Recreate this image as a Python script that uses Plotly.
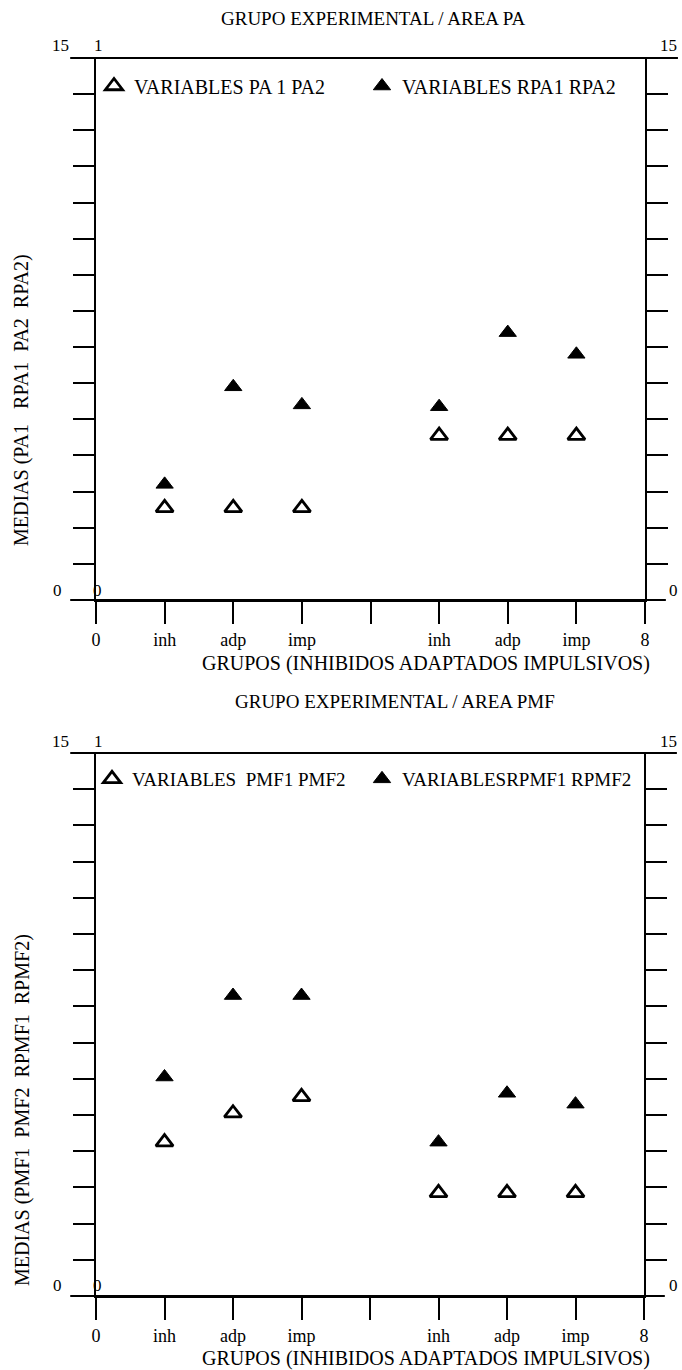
import plotly.graph_objects as go

# ---------------- data ----------------
x_pos = [1, 2, 3, 5, 6, 7]
x_tickvals = [0, 1, 2, 3, 4, 5, 6, 7, 8]
x_ticktext = ["0", "inh", "adp", "imp", "", "inh", "adp", "imp", "8"]
y_tickvals = [1, 2, 3, 4, 5, 6, 7, 8, 9, 10, 11, 12, 13, 14]

pa_vals = [2.55, 2.55, 2.55, 4.55, 4.55, 4.55]      # VARIABLES PA1 PA2 (open)
rpa_vals = [3.2, 5.9, 5.4, 5.35, 7.4, 6.8]          # VARIABLES RPA1 RPA2 (filled)
pmf_vals = [4.25, 5.05, 5.5, 2.85, 2.85, 2.85]      # VARIABLES PMF1 PMF2 (open)
rpmf_vals = [6.05, 8.3, 8.3, 4.25, 5.6, 5.3]        # VARIABLES RPMF1 RPMF2 (filled)

W, H = 682, 1370
SERIF = "Liberation Serif, Times New Roman, serif"


def fx(p):
    return p / W


def fy(p):
    return 1 - p / H


top = dict(x0=96, x1=645, y0=58, y1=600)
bot = dict(x0=96, x1=644, y0=753, y1=1296)

fig = go.Figure()

open_marker = dict(symbol="triangle-up-open", size=15, color="black", line=dict(width=2.8, color="black"))
fill_marker = dict(symbol="triangle-up", size=15, color="black", line=dict(width=1, color="black"))

fig.add_trace(go.Scatter(x=x_pos, y=pa_vals, mode="markers", marker=open_marker,
                         name="VARIABLES PA 1 PA2", xaxis="x", yaxis="y", legend="legend"))
fig.add_trace(go.Scatter(x=x_pos, y=rpa_vals, mode="markers", marker=fill_marker,
                         name="VARIABLES RPA1 RPA2", xaxis="x", yaxis="y", legend="legend2"))
fig.add_trace(go.Scatter(x=x_pos, y=pmf_vals, mode="markers", marker=open_marker,
                         name="VARIABLES  PMF1 PMF2", xaxis="x2", yaxis="y2", legend="legend3"))
fig.add_trace(go.Scatter(x=x_pos, y=rpmf_vals, mode="markers", marker=fill_marker,
                         name="VARIABLESRPMF1 RPMF2", xaxis="x2", yaxis="y2", legend="legend4"))

xax = dict(range=[0, 8], tickvals=x_tickvals, ticktext=x_ticktext, ticks="outside", ticklen=22,
           tickwidth=1.6, tickcolor="black", showline=True, linecolor="black", linewidth=2,
           showgrid=False, zeroline=False, tickfont=dict(family=SERIF, size=18, color="black"),
           fixedrange=True)
yax = dict(range=[0, 15], tickvals=y_tickvals, ticks="outside", ticklen=21, tickwidth=1.6,
           tickcolor="black", showline=True, linecolor="black", linewidth=1.6, mirror="ticks",
           showgrid=False, zeroline=False, showticklabels=False, fixedrange=True)

fig.update_layout(
    width=W, height=H, margin=dict(l=0, r=0, t=0, b=0, autoexpand=False),
    paper_bgcolor="white", plot_bgcolor="white",
    xaxis=dict(xax, domain=[fx(top["x0"]), fx(top["x1"])], anchor="y"),
    yaxis=dict(yax, domain=[fy(top["y1"]), fy(top["y0"])], anchor="x"),
    xaxis2=dict(xax, domain=[fx(bot["x0"]), fx(bot["x1"])], anchor="y2"),
    yaxis2=dict(yax, domain=[fy(bot["y1"]), fy(bot["y0"])], anchor="x2"),
    showlegend=True,
)

leg_common = dict(orientation="h", xanchor="left", yanchor="middle", bgcolor="rgba(0,0,0,0)",
                  itemwidth=30, borderwidth=0)
f20 = dict(family=SERIF, size=20, color="black")
f19 = dict(family=SERIF, size=19, color="black")
fig.update_layout(
    legend=dict(leg_common, x=fx(94), y=fy(86), font=f20),
    legend2=dict(leg_common, x=fx(362), y=fy(86), font=f20),
    legend3=dict(leg_common, x=fx(92), y=fy(779), font=f19),
    legend4=dict(leg_common, x=fx(362), y=fy(779), font=f19),
)

ann = []


def txt(x, y, s, size=20, angle=0, xanchor="center"):
    ann.append(dict(x=fx(x), y=fy(y), xref="paper", yref="paper", text=s, showarrow=False,
                    font=dict(family=SERIF, size=size, color="black"), textangle=angle,
                    xanchor=xanchor, yanchor="middle"))


for off, tcx, title, ytitle, yc in [
    (0, 374, "GRUPO EXPERIMENTAL / AREA PA", "MEDIAS (PA1   RPA1  PA2  RPA2)", 400),
    (695, 395, "GRUPO EXPERIMENTAL / AREA PMF", "MEDIAS (PMF1  PMF2  RPMF1  RPMF2)", 1110),
]:
    txt(tcx, 18 if off == 0 else 701, title, size=19)
    txt(426, 663 if off == 0 else 1358, "GRUPOS (INHIBIDOS ADAPTADOS IMPULSIVOS)", size=20)
    txt(22, yc, ytitle, size=20, angle=-90)
    txt(60, 46 + off, "15", size=17)
    txt(98, 46 + off, "1", size=17)
    txt(668, 46 + off, "15", size=17)
    txt(58, 590 + off, "0", size=17)
    txt(97, 590 + off, "0", size=17)
    txt(673, 590 + off, "0", size=17)

fig.update_layout(annotations=ann)

shapes = []
for xa, ya in [("x", "y"), ("x2", "y2")]:
    shapes.append(dict(type="line", xref=f"{xa} domain", yref=f"{ya} domain",
                       x0=-0.047, x1=1.06, y0=1, y1=1, line=dict(color="black", width=2)))
    shapes.append(dict(type="line", xref=f"{xa} domain", yref=f"{ya} domain",
                       x0=-0.047, x1=1.038, y0=0, y1=0, line=dict(color="black", width=2)))
fig.update_layout(shapes=shapes)

fig.write_html("out.html")
